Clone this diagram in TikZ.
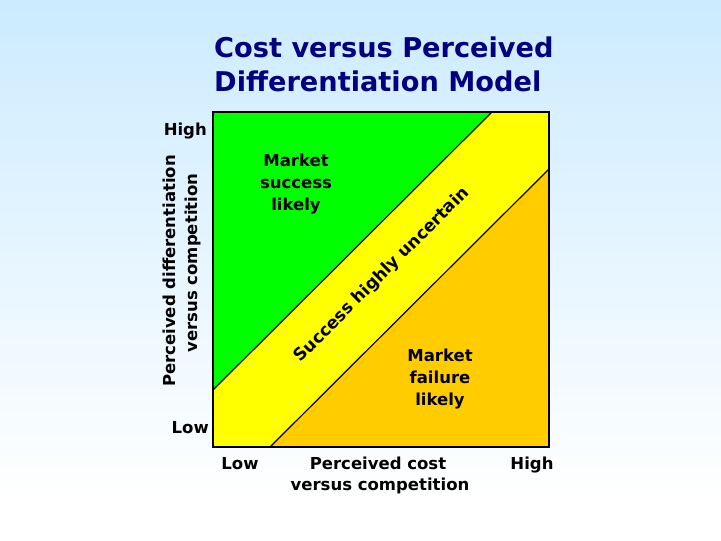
\documentclass[tikz,border=0pt]{standalone}
\usepackage{fontspec}
\setmainfont{DejaVu Sans}
\definecolor{bgtop}{RGB}{204,235,255}
\definecolor{navy}{RGB}{0,0,128}
\definecolor{zgreen}{RGB}{0,255,0}
\definecolor{zyellow}{RGB}{255,255,0}
\definecolor{zorange}{RGB}{255,204,0}
\tikzset{
  titletext/.style={font=\fontsize{27.2}{34}\selectfont\bfseries, text=navy, inner sep=0pt, anchor=base west},
  zonetext/.style={font=\fontsize{16.5}{21.7}\selectfont\bfseries, align=center, inner sep=0pt},
  axistext/.style={font=\fontsize{16.5}{21.7}\selectfont\bfseries, inner sep=0pt},
  bandtext/.style={font=\fontsize{17}{20}\selectfont\bfseries, inner sep=0pt, rotate=45},
}
\begin{document}
\begin{tikzpicture}[x=1pt,y=-1pt]
\useasboundingbox (0,0) rectangle (721,541);
\shade[top color=bgtop, bottom color=white] (0,0) rectangle (721,500);
\fill[white] (0,500) rectangle (721,541);

% square corners
\coordinate (TL) at (213,112);
\coordinate (TR) at (549,112);
\coordinate (BR) at (549,447);
\coordinate (BL) at (213,447);
% band boundaries
\coordinate (gTop) at (492,112);
\coordinate (gLeft) at (213,390);
\coordinate (oBot) at (270,447);
\coordinate (oRight) at (549,169);

\fill[zyellow] (TL) rectangle (BR);
\fill[zgreen] (TL) -- (gTop) -- (gLeft) -- cycle;
\fill[zorange] (oBot) -- (oRight) -- (BR) -- cycle;
\draw[line width=1.2pt] (gLeft) -- (gTop);
\draw[line width=1.2pt] (oBot) -- (oRight);
\draw[line width=1.8pt] (TL) rectangle (BR);

% title
\node[titletext] (t1) at (214,57) {Cost versus Perceived};
\node[titletext] (t2) at (214,91) {Differentiation Model};

% zone labels
\node[zonetext] (succ) at (296,184) {Market\\success\\likely};
\node[zonetext] (fail) at (440,379) {Market\\failure\\likely};
\node[bandtext] (band) at (382,275) {Success highly uncertain};

% y axis
\node[axistext, anchor=base east] (yhigh) at (207,135) {High};
\node[axistext, anchor=base east] (ylow) at (209,433) {Low};
\node[axistext, rotate=90, anchor=base] (ylab1) at (175,271) {Perceived differentiation};
\node[axistext, rotate=90, anchor=base] (ylab2) at (197,263) {versus competition};

% x axis
\node[axistext, anchor=base] (xlow) at (240,469) {Low};
\node[axistext, anchor=base] (xlab1) at (378,469) {Perceived cost};
\node[axistext, anchor=base] (xlab2) at (380,490) {versus competition};
\node[axistext, anchor=base] (xhigh) at (532,469) {High};
\end{tikzpicture}
\end{document}
